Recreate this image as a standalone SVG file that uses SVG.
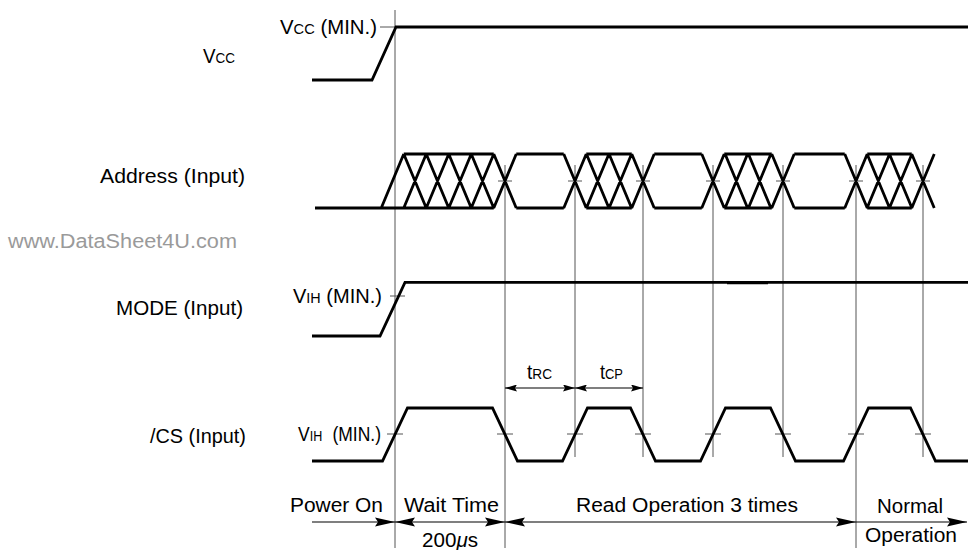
<svg xmlns="http://www.w3.org/2000/svg" width="968" height="550" viewBox="0 0 968 550">
<style>
.t{font-family:"Liberation Sans",Arial,sans-serif;font-size:19.5px;fill:#000}
.s{font-size:14px}
.wm{fill:#9a9a9a}
.sig{fill:none;stroke:#000;stroke-width:2.8;stroke-linejoin:miter;stroke-linecap:butt}
.g{fill:none;stroke:#555;stroke-width:1}
.ar{fill:none;stroke:#000;stroke-width:1.2}
</style>
<defs>
<marker id="ah" viewBox="0 0 20 10" refX="20" refY="5" markerWidth="20" markerHeight="10" markerUnits="userSpaceOnUse" orient="auto-start-reverse"><path d="M0,0.5 L20,5 L0,9.5 L3,5 Z" fill="#000"/></marker>
<marker id="ahs" viewBox="0 0 12 7" refX="12" refY="3.5" markerWidth="12" markerHeight="7" markerUnits="userSpaceOnUse" orient="auto-start-reverse"><path d="M0,0 L12,3.5 L0,7 L2,3.5 Z" fill="#000"/></marker>
</defs>
<rect width="968" height="550" fill="#fff"/>

<g id="guides">
<line class="g" x1="395" y1="10" x2="395" y2="548"/>
<line class="g" x1="505" y1="165" x2="505" y2="548"/>
<line class="g" x1="856" y1="165" x2="856" y2="548"/>
<line class="g" x1="575" y1="165" x2="575" y2="457"/>
<line class="g" x1="643" y1="165" x2="643" y2="457"/>
<line class="g" x1="713" y1="165" x2="713" y2="457"/>
<line class="g" x1="783" y1="165" x2="783" y2="457"/>
<line class="g" x1="923" y1="165" x2="923" y2="457"/>
<path class="g" d="M380,27H396 M390,296H405 M387,434H403 M498,181H512 M568,181H582 M636,181H650 M706,181H720 M776,181H790 M849,181H863 M916,181H930 M497,434H513 M567,434H583 M635,434H651 M705,434H721 M775,434H791 M848,434H864 M915,434H931"/>
</g>

<g id="labels">
<text class="t" x="203" y="63" textLength="32" lengthAdjust="spacingAndGlyphs">V<tspan class="s">CC</tspan></text>
<text class="t" x="100" y="183" textLength="145" lengthAdjust="spacingAndGlyphs">Address (Input)</text>
<text class="t wm" x="8" y="248" textLength="229" lengthAdjust="spacingAndGlyphs">www.DataSheet4U.com</text>
<text class="t" x="116" y="315" textLength="127" lengthAdjust="spacingAndGlyphs">MODE (Input)</text>
<text class="t" x="150" y="443" textLength="96" lengthAdjust="spacingAndGlyphs">/CS (Input)</text>
</g>

<g id="vcc">
<path class="sig" d="M312,80H372L396,27H968"/>
<text class="t" x="280" y="34" textLength="97" lengthAdjust="spacingAndGlyphs">V<tspan class="s">CC</tspan> (MIN.)</text>
</g>

<g id="address">
<path class="sig" d="M403.75,154H493.75 M516.25,154H563.75 M586.25,154H631.75 M654.25,154H701.75 M724.25,154H771.75 M794.25,154H844.75 M867.25,154H911.75
M315,208H493.75 M516.25,208H563.75 M586.25,208H631.75 M654.25,208H701.75 M724.25,208H771.75 M794.25,208H844.75 M867.25,208H911.75
M381.25,208L403.75,154
M403.75,208L426.25,154 M403.75,154L426.25,208
M426.25,208L448.75,154 M426.25,154L448.75,208
M448.75,208L471.25,154 M448.75,154L471.25,208
M471.25,208L493.75,154 M471.25,154L493.75,208
M493.75,208L516.25,154 M493.75,154L516.25,208
M563.75,208L586.25,154 M563.75,154L586.25,208
M586.42,208L608.92,154 M586.42,154L608.92,208
M609.08,208L631.58,154 M609.08,154L631.58,208
M631.75,208L654.25,154 M631.75,154L654.25,208
M701.75,208L724.25,154 M701.75,154L724.25,208
M725.08,208L747.58,154 M725.08,154L747.58,208
M748.42,208L770.92,154 M748.42,154L770.92,208
M771.75,208L794.25,154 M771.75,154L794.25,208
M844.75,208L867.25,154 M844.75,154L867.25,208
M867.08,208L889.58,154 M867.08,154L889.58,208
M889.42,208L911.92,154 M889.42,154L911.92,208
M911.75,208L934.25,154 M911.75,154L934.25,208"/>
</g>

<g id="mode">
<path class="sig" d="M312,336H380L405,282.3H968"/>
<line x1="727" y1="282.6" x2="768" y2="282.6" stroke="#000" stroke-width="3.4"/>
<text class="t" x="293" y="303" textLength="89" lengthAdjust="spacingAndGlyphs">V<tspan class="s">IH</tspan> (MIN.)</text>
</g>

<g id="cs">
<path class="sig" d="M312,461H382.5L407.5,408H492.5L517.5,461H562.5L587.5,408H630.5L655.5,461H700.5L725.5,408H770.5L795.5,461H843.5L868.5,408H910.5L935.5,461H968"/>
<text class="t" x="298" y="441" textLength="83" lengthAdjust="spacingAndGlyphs">V<tspan class="s">IH</tspan><tspan dx="6"> (MIN.)</tspan></text>
</g>

<g id="connectors">
<line class="ar" x1="505" y1="388" x2="575" y2="388" marker-start="url(#ahs)" marker-end="url(#ahs)"/>
<line class="ar" x1="575" y1="388" x2="643" y2="388" marker-start="url(#ahs)" marker-end="url(#ahs)"/>
<line class="ar" x1="312" y1="522" x2="395" y2="522" marker-end="url(#ah)"/>
<line class="ar" x1="395" y1="522" x2="505" y2="522" marker-start="url(#ah)" marker-end="url(#ah)"/>
<line class="ar" x1="505" y1="522" x2="856" y2="522" marker-start="url(#ah)" marker-end="url(#ah)"/>
<line class="ar" x1="856" y1="522" x2="967" y2="522" marker-end="url(#ah)"/>
</g>

<g id="timing-labels">
<text class="t" x="527" y="379" textLength="25" lengthAdjust="spacingAndGlyphs">t<tspan class="s">RC</tspan></text>
<text class="t" x="600" y="379" textLength="23" lengthAdjust="spacingAndGlyphs">t<tspan class="s">CP</tspan></text>
<text class="t" x="290" y="512" textLength="93" lengthAdjust="spacingAndGlyphs">Power On</text>
<text class="t" x="404" y="512" textLength="95" lengthAdjust="spacingAndGlyphs">Wait Time</text>
<text class="t" x="422" y="547" textLength="56" lengthAdjust="spacingAndGlyphs">200<tspan font-style="italic">μ</tspan>s</text>
<text class="t" x="576" y="512" textLength="222" lengthAdjust="spacingAndGlyphs">Read Operation 3 times</text>
<text class="t" x="877" y="513" textLength="66" lengthAdjust="spacingAndGlyphs">Normal</text>
<text class="t" x="865" y="542" textLength="92" lengthAdjust="spacingAndGlyphs">Operation</text>
</g>
</svg>
